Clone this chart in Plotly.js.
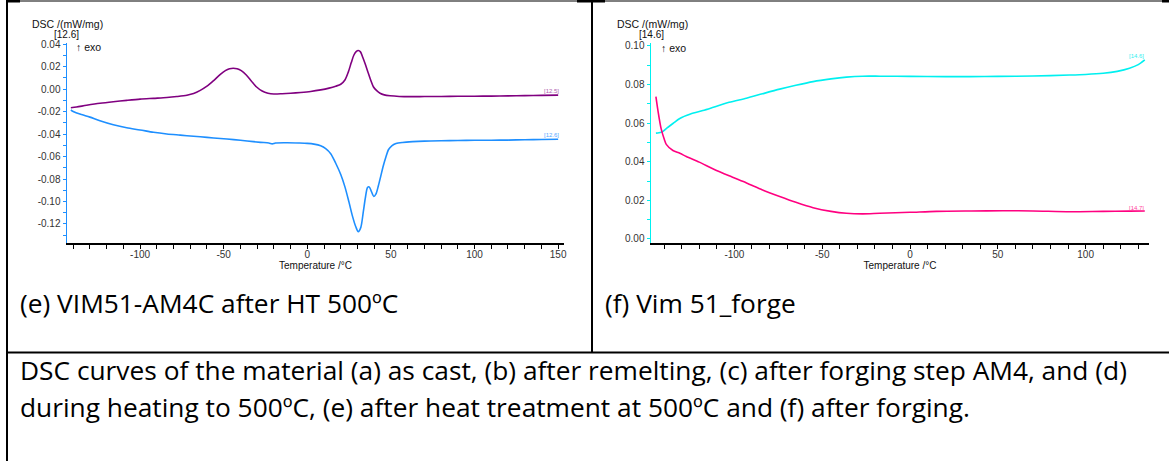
<!DOCTYPE html>
<html>
<head>
<meta charset="utf-8">
<script src="https://cdn.plot.ly/plotly-3.0.1.min.js"></script>
<style>
html,body{margin:0;padding:0;background:#fff;}
#chart{width:1169px;height:461px;}
</style>
</head>
<body>
<div id="chart"></div>
<script>
// ---------- Data: (e) VIM51-AM4C after HT 500ºC ----------
const eTempPurple = [-141.4,-138,-132,-124,-116,-108,-100,-92,-84,-78,-72,-68,-64,-60,-56,-52,-49,-46.5,-44.3,-42,-39.5,-36.5,-33.5,-30.5,-27,-23.5,-20,-15,-10,-4,2,8,13,17,20,22.5,24.5,26.3,27.8,29.2,30.5,31.8,33.2,34.8,36.5,38,39.5,41.5,43.5,46,49.5,55,62,70,80,90,100,110,120,130,140,150];
const eDscPurple = [-0.0167,-0.0160,-0.0145,-0.0127,-0.0113,-0.0101,-0.0090,-0.0083,-0.0076,-0.0067,-0.0055,-0.0040,-0.0012,0.0025,0.0075,0.0130,0.0163,0.0180,0.0185,0.0180,0.0163,0.0125,0.0072,0.0020,-0.0018,-0.0037,-0.0044,-0.0042,-0.0038,-0.0031,-0.0022,-0.0008,0.0008,0.0025,0.0042,0.0080,0.0150,0.0235,0.0300,0.0332,0.0342,0.0330,0.0280,0.0215,0.0140,0.0075,0.0020,-0.0015,-0.0038,-0.0052,-0.0060,-0.0066,-0.0068,-0.0067,-0.0066,-0.0065,-0.0064,-0.0063,-0.0061,-0.0059,-0.0057,-0.0054];

const eTempBlue = [-141.4,-140,-137.9,-134,-130,-124,-116,-108,-100,-92,-84,-76,-68,-60,-52,-44,-36,-28,-23,-21,-19,-12,-5,0,4,8,11,14,17,20,22.5,25,27,29,30.5,32,33.5,34.8,36,37,38.3,39.8,41,42.5,44,45.5,47,48.5,50.5,53,57,63,70,80,90,100,110,120,130,140,150];
const eDscBlue = [-0.0187,-0.0200,-0.0214,-0.0232,-0.0250,-0.0282,-0.0318,-0.0345,-0.0364,-0.0385,-0.0400,-0.0410,-0.0420,-0.0430,-0.0440,-0.0450,-0.0462,-0.0474,-0.0480,-0.0488,-0.0480,-0.0478,-0.0480,-0.0483,-0.0490,-0.0505,-0.0530,-0.0575,-0.0660,-0.0760,-0.0870,-0.1010,-0.1130,-0.1225,-0.1268,-0.1230,-0.1090,-0.0960,-0.0875,-0.0870,-0.0910,-0.0955,-0.0935,-0.0860,-0.0770,-0.0680,-0.0605,-0.0540,-0.0505,-0.0485,-0.0475,-0.0468,-0.0463,-0.0460,-0.0458,-0.0456,-0.0455,-0.0454,-0.0451,-0.0449,-0.0447];

// ---------- Data: (f) Vim 51_forge ----------
const fTempCyan = [-144.7,-143,-141,-138.8,-135,-131.1,-125,-118,-112,-103,-93.2,-84,-74.2,-65,-55.2,-45,-36.2,-27,-17,0,20,34,50,70,91,100,110,118,125,130,133.7];
const fDscCyan = [0.0548,0.0550,0.0555,0.0572,0.0598,0.0624,0.0647,0.0665,0.0682,0.0708,0.0729,0.0752,0.0776,0.0796,0.0815,0.0829,0.0838,0.0843,0.0843,0.0842,0.0841,0.0841,0.0842,0.0844,0.0849,0.0852,0.0858,0.0868,0.0884,0.0903,0.0927];

const fTempPink = [-144.7,-143.6,-141.7,-139.8,-138.8,-135.0,-131.1,-127.4,-120,-112.3,-103,-93.1,-84,-74.2,-65,-55.2,-45,-36.2,-27,-17.3,0,15,35,52.8,70,91,110,125,133.7];
const fDscPink = [0.0737,0.0668,0.0570,0.0513,0.0490,0.0458,0.0444,0.0427,0.0398,0.0364,0.0327,0.0290,0.0254,0.0220,0.0190,0.0162,0.0143,0.0133,0.0130,0.0133,0.0138,0.0143,0.0145,0.0146,0.0145,0.0141,0.0143,0.0144,0.0145];

// ---------- Ticks ----------
const eXTickVals = [-100,-50,0,50,100,150];
const eXTickText = ['-100','-50','0','50','100','150'];
const eYTickVals = [-0.12,-0.10,-0.08,-0.06,-0.04,-0.02,0.00,0.02,0.04];
const eYTickText = ['-0.12','-0.10','-0.08','-0.06','-0.04','-0.02','0.00','0.02','0.04'];
const fXTickVals = [-100,-50,0,50,100];
const fXTickText = ['-100','-50','0','50','100'];
const fYTickVals = [0.00,0.02,0.04,0.06,0.08,0.10];
const fYTickText = ['0.00','0.02','0.04','0.06','0.08','0.10'];

// ---------- Texts ----------
const yLabel = 'DSC /(mW/mg)';
const xLabel = 'Temperature /°C';
const eSegLabel = '[12.6]';
const fSegLabel = '[14.6]';
const exoLabel = '↑ exo';
const eCaption = '(e) VIM51-AM4C after HT 500ºC';
const fCaption = '(f) Vim 51_forge';
const bottomLine1 = 'DSC curves of the material (a) as cast, (b) after remelting, (c) after forging step AM4, and (d)';
const bottomLine2 = 'during heating to 500ºC, (e) after heat treatment at 500ºC and (f) after forging.';
const endLabels = {purple:'[12.5]', blue:'[12.6]', cyan:'[14.6]', pink:'[14.7]'};

// ---------- Layout helpers ----------
const W = 1169, H = 461;
const px = x => x / W;
const py = y => 1 - y / H;

const chartFont = 'Liberation Sans, Arial, sans-serif';
const capFont = 'Open Sans, sans-serif';
const capSize = 26.3;
const tickCol = '#333333';

const traces = [
  {x: eTempPurple, y: eDscPurple, xaxis:'x', yaxis:'y', mode:'lines', line:{color:'#800080', width:1.6, shape:'spline', smoothing:0.8}, hoverinfo:'skip'},
  {x: eTempBlue, y: eDscBlue, xaxis:'x', yaxis:'y', mode:'lines', line:{color:'#1e8fff', width:1.6, shape:'spline', smoothing:0.8}, hoverinfo:'skip'},
  {x: fTempCyan, y: fDscCyan, xaxis:'x2', yaxis:'y2', mode:'lines', line:{color:'#00f0f0', width:1.6, shape:'spline', smoothing:0.8}, hoverinfo:'skip'},
  {x: fTempPink, y: fDscPink, xaxis:'x2', yaxis:'y2', mode:'lines', line:{color:'#ff0080', width:1.6, shape:'spline', smoothing:0.8}, hoverinfo:'skip'}
];

function xAxis(domain, range, vals, text, anchor){
  return {
    domain: domain, range: range, anchor: anchor,
    showgrid:false, zeroline:false, showline:true, linecolor:'#000', linewidth:1.5,
    ticks:'outside', ticklen:4, tickcolor:'#000', tickwidth:1,
    tickmode:'array', tickvals: vals, ticktext: text, ticklabelstandoff:-3,
    minor:{dtick:10, tick0:0, ticks:'outside', ticklen:4, tickcolor:'#000', tickwidth:1, showgrid:false},
    tickfont:{family:chartFont, size:10, color:tickCol},
    title:{text:xLabel, font:{family:chartFont, size:10, color:'#111'}, standoff:0},
    automargin:false, fixedrange:true
  };
}
function yAxis(domain, range, vals, text, color, anchor){
  return {
    domain: domain, range: range, anchor: anchor,
    showgrid:false, zeroline:false, showline:true, linecolor:color, linewidth:1.5,
    ticks:'outside', ticklen:3, tickcolor:color, tickwidth:1,
    tickmode:'array', tickvals: vals, ticktext: text,
    minor:{dtick:0.01, tick0:0, ticks:'outside', ticklen:3, tickcolor:color, tickwidth:1, showgrid:false},
    tickfont:{family:chartFont, size:10, color:tickCol},
    automargin:false, fixedrange:true
  };
}

const yDom = [py(243), py(43)];

const ann = [];
function txt(x, y, t, size, color, family, anchor){
  ann.push({xref:'paper', yref:'paper', x:x, y:y, text:t, showarrow:false,
    xanchor: anchor || 'left', yanchor:'middle', font:{family:family||chartFont, size:size, color:color||'#111'}});
}
// chart headers
txt(px(30), py(24), yLabel, 10.5);
txt(px(52), py(34), eSegLabel, 10);
txt(px(74), py(47.5), exoLabel, 10.5);
txt(px(615), py(24), yLabel, 10.5);
txt(px(637), py(34), fSegLabel, 10);
txt(px(659), py(48), exoLabel, 10.5);
// curve end labels (data coords)
function endLab(xr, yr, x, y, t, color){
  ann.push({xref:xr, yref:yr, x:x, y:y, text:t, showarrow:false, xanchor:'center', yanchor:'middle', font:{family:chartFont, size:6, color:color}});
}
endLab('x','y',146,-0.0014,endLabels.purple,'#b060b0');
endLab('x','y',146,-0.0409,endLabels.blue,'#55a8ff');
endLab('x2','y2',129.2,0.0948,endLabels.cyan,'#30f0f0');
endLab('x2','y2',129.2,0.0162,endLabels.pink,'#ff4aa0');
// captions
txt(px(18), py(303), eCaption, capSize, '#000', capFont);
txt(px(603), py(303), fCaption, capSize, '#000', capFont);
txt(px(18), py(370), bottomLine1, capSize, '#000', capFont);
txt(px(18), py(407), bottomLine2, capSize, '#000', capFont);

// table borders
const shapes = [];
function line(x0,y0,x1,y1,w){
  shapes.push({type:'line', xref:'paper', yref:'paper', x0:px(x0), y0:py(y0), x1:px(x1), y1:py(y1), line:{color:'#000', width:w}});
}
function rect(x0,y0,x1,y1){
  shapes.push({type:'rect', xref:'paper', yref:'paper', x0:px(x0), y0:py(y0), x1:px(x1), y1:py(y1), line:{width:0}, fillcolor:'#000'});
}
line(7,0,7,461,2);
line(6,1,1169,1,1);
line(592,0,592,352.5,2);
line(6,352.5,1169,352.5,2);
rect(6,0,20,2.5);
rect(577,0,605,2.5);
rect(1162,0,1169,2.5);

const layout = {
  width: W, height: H,
  margin:{l:0,r:0,t:0,b:0},
  paper_bgcolor:'#fff', plot_bgcolor:'rgba(0,0,0,0)',
  showlegend:false,
  xaxis: xAxis([px(67), px(564)], [-143.7, 153.5], eXTickVals, eXTickText, 'y'),
  yaxis: yAxis(yDom, [-0.1369, 0.0409], eYTickVals, eYTickText, '#1e8fff', 'x'),
  xaxis2: xAxis([px(651), px(1149)], [-147.5, 136.1], fXTickVals, fXTickText, 'y2'),
  yaxis2: yAxis(yDom, [-0.0021, 0.1015], fYTickVals, fYTickText, '#00f0f0', 'x2'),
  annotations: ann,
  shapes: shapes
};

Plotly.newPlot('chart', traces, layout, {staticPlot:true, displayModeBar:false});
</script>
</body>
</html>
